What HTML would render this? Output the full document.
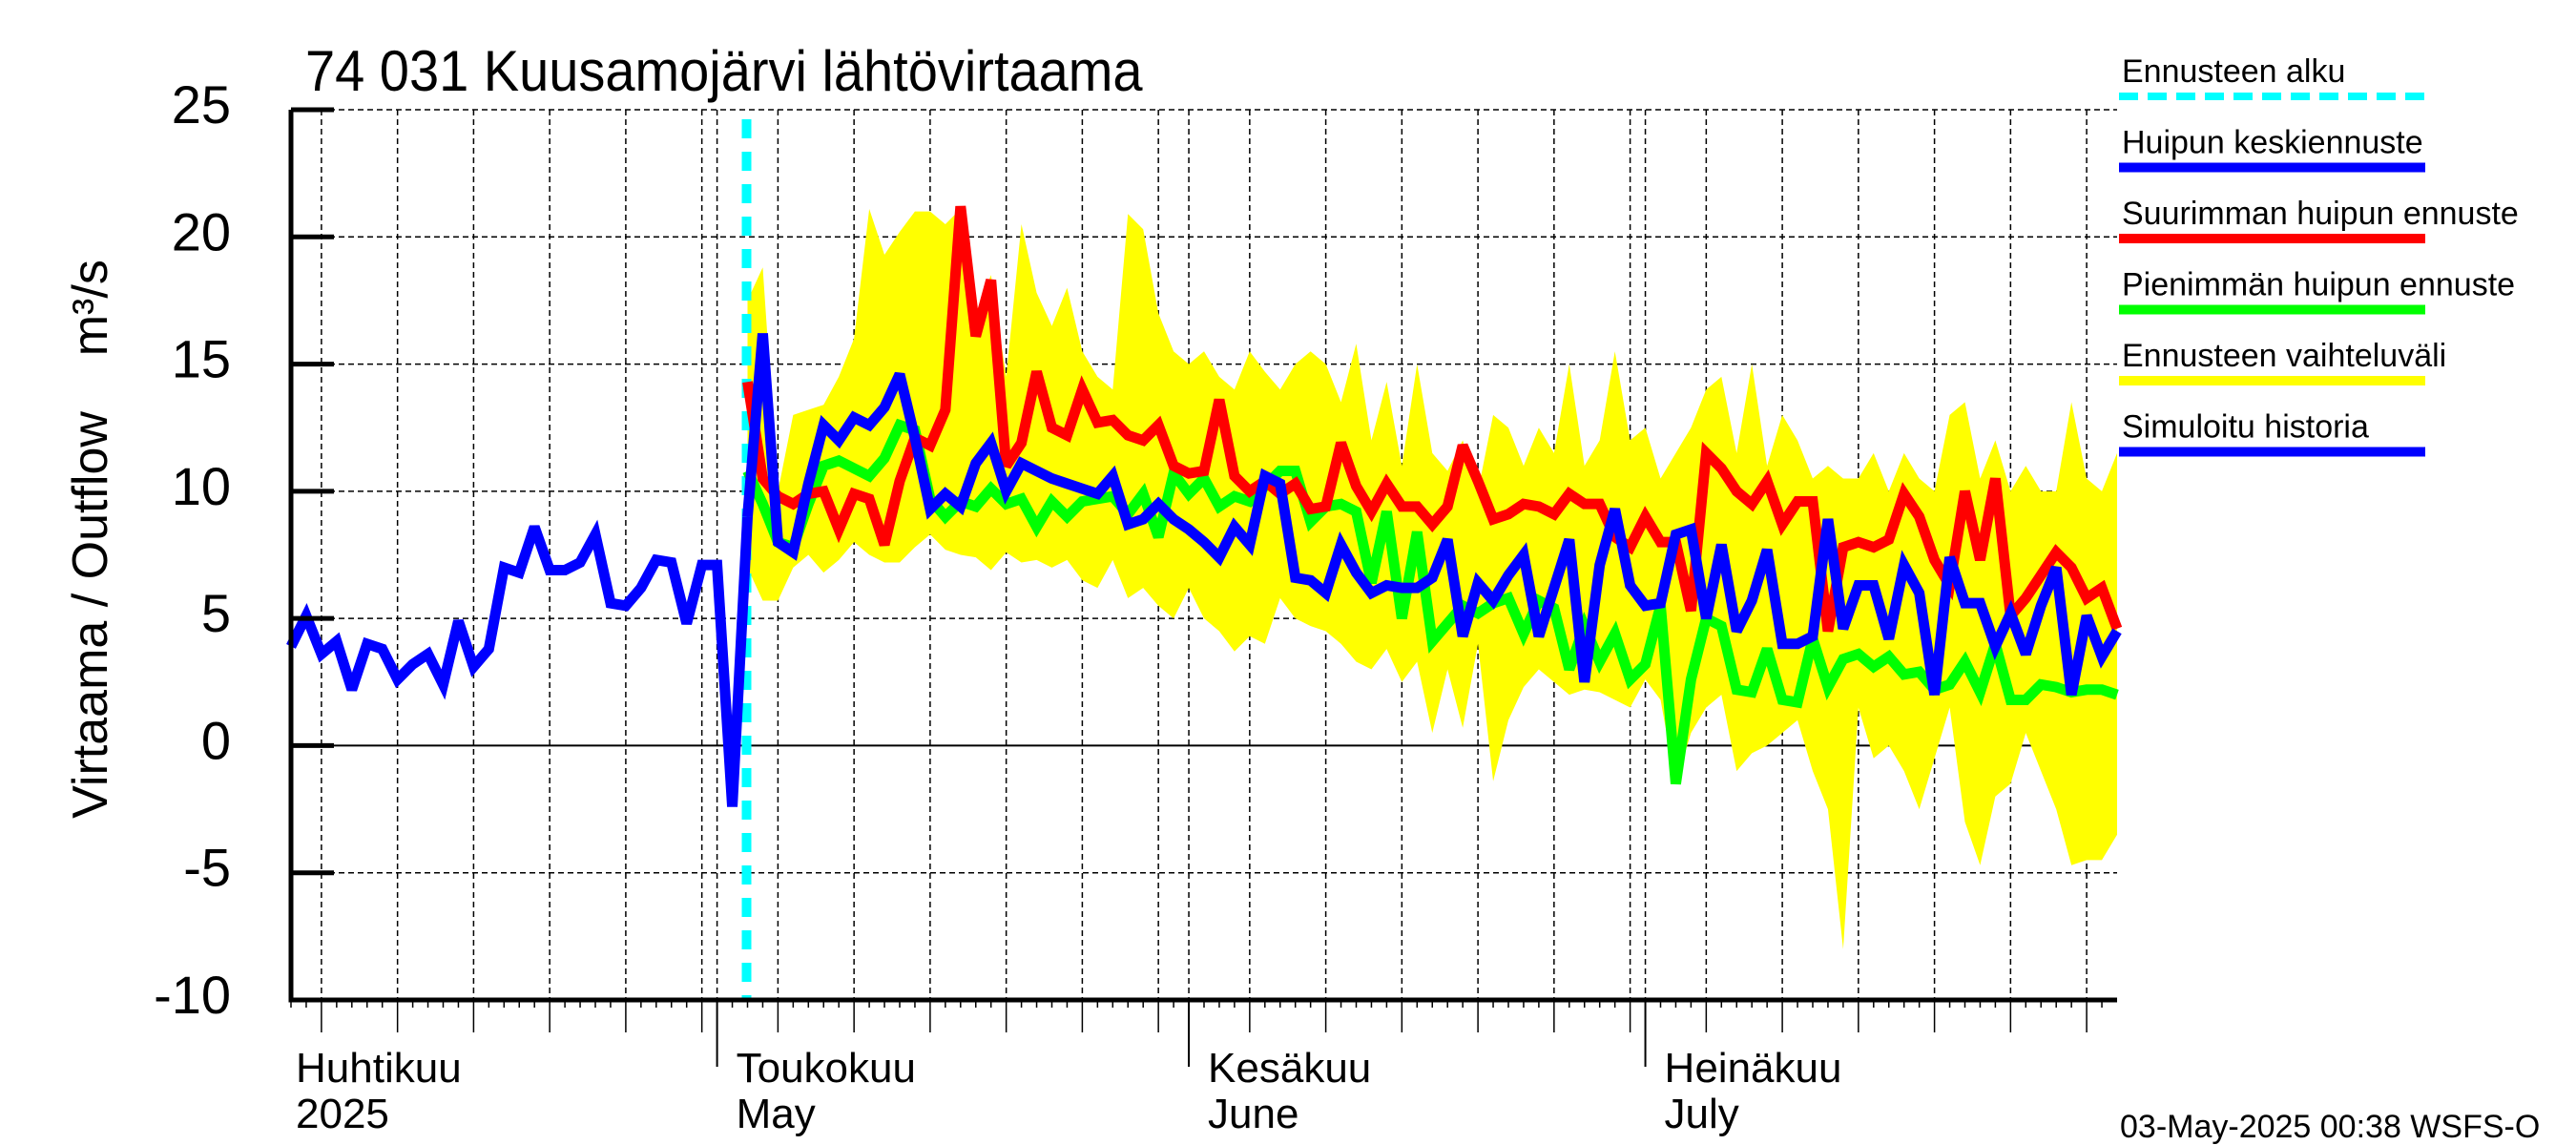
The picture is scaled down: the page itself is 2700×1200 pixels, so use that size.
<!DOCTYPE html>
<html><head><meta charset="utf-8"><style>
html,body{margin:0;padding:0;background:#fff}
svg{display:block;font-family:"Liberation Sans",Arial,sans-serif}
</style></head><body>
<svg id="chart" width="2700" height="1200" viewBox="0 0 2700 1200" xmlns="http://www.w3.org/2000/svg">
<g id="grid"></g>
<g id="band"></g>
<g id="cyan"></g>
<g id="lines"></g>
<g id="axes"></g>
<text x="320" y="88" font-size="56" transform="translate(320,0) scale(1.0,1.08) translate(-320,0)">74 031 Kuusamojärvi lähtövirtaama</text>
<text transform="translate(112,565) rotate(-90)" text-anchor="middle" font-size="52" xml:space="preserve">Virtaama / Outflow    m³/s</text>
<g id="legend"></g>
<text x="2222" y="1192" font-size="34">03-May-2025 00:38 WSFS-O</text>
</svg>
<script>
const histValues=[3.9,5.1,3.6,4.1,2.2,4.0,3.8,2.6,3.2,3.6,2.4,4.9,3.1,3.8,7.0,6.8,8.6,6.9,6.9,7.2,8.3,5.6,5.5,6.2,7.3,7.2,4.8,7.1,7.1,-2.4,9.0];
const fcStart=30;
const meanValues=[9.0,16.2,8.0,7.6,10.3,12.6,12.0,12.9,12.6,13.3,14.6,12.1,9.3,9.9,9.4,11.1,11.9,10.0,11.1,10.8,10.5,10.3,10.1,9.9,10.6,8.7,8.9,9.5,8.9,8.5,8.0,7.4,8.6,7.9,10.6,10.3,6.6,6.5,6.0,7.9,6.8,6.0,6.3,6.2,6.2,6.6,8.1,4.3,6.4,5.7,6.7,7.5,4.3,6.2,8.1,2.5,7.1,9.3,6.3,5.5,5.6,8.3,8.5,5.0,7.9,4.5,5.7,7.7,4.0,4.0,4.3,8.9,4.6,6.3,6.3,4.2,7.1,6.0,2.0,7.4,5.6,5.6,3.9,5.2,3.6,5.5,7.0,2.0,5.1,3.5,4.5];
const maxValues=[14.3,10.5,9.8,9.5,9.9,10.0,8.5,9.9,9.7,7.9,10.4,12.1,11.8,13.2,21.2,16.1,18.3,11.0,11.9,14.7,12.5,12.2,14.0,12.7,12.8,12.2,12.0,12.6,11.0,10.7,10.8,13.6,10.6,10.0,10.4,9.9,10.3,9.3,9.4,11.9,10.2,9.2,10.3,9.4,9.4,8.7,9.4,11.8,10.4,8.9,9.1,9.5,9.4,9.1,9.9,9.5,9.5,8.2,7.8,9.0,8.0,8.0,5.3,11.5,10.9,10.0,9.5,10.4,8.7,9.6,9.6,4.5,7.8,8.0,7.8,8.1,9.9,9.0,7.3,6.3,10.0,7.3,10.5,5.1,5.8,6.7,7.6,7.0,5.8,6.2,4.6];
const minValues=[10.8,9.5,8.0,7.8,9.5,11.0,11.2,10.9,10.6,11.3,12.6,12.4,9.7,9.0,9.6,9.4,10.1,9.5,9.7,8.6,9.6,9.0,9.6,9.7,9.8,9.1,9.9,8.2,10.7,9.9,10.5,9.4,9.8,9.6,10.2,10.8,10.8,8.8,9.4,9.5,9.2,6.4,9.2,5.0,8.4,4.1,4.8,5.5,5.2,5.6,5.8,4.4,5.7,5.4,3.0,4.7,3.3,4.4,2.6,3.2,5.5,-1.5,2.6,5.0,4.7,2.2,2.1,3.8,1.8,1.7,4.2,2.3,3.4,3.6,3.1,3.5,2.8,2.9,2.2,2.4,3.3,2.1,4.0,1.8,1.8,2.4,2.3,2.1,2.2,2.2,2.0];
const bandUpper=[17.5,18.8,10.0,13.0,13.2,13.4,14.5,16.0,21.1,19.3,20.2,21.0,21.0,20.5,21.1,17.0,18.5,14.5,20.5,17.8,16.5,18.0,15.5,14.5,14.0,20.9,20.3,17.0,15.5,15.0,15.5,14.5,14.0,15.5,14.7,14.0,15.0,15.5,15.0,13.5,15.8,12.0,14.3,11.0,15.0,11.5,10.8,12.0,10.0,13.0,12.5,11.0,12.5,11.5,15.0,11.0,12.0,15.5,12.0,12.5,10.5,11.5,12.5,14.0,14.5,11.5,15.0,11.0,13.0,12.0,10.5,11.0,10.5,10.5,11.5,10.0,11.5,10.5,10.0,13.0,13.5,10.5,12.0,10.0,11.0,10.0,10.0,13.5,10.5,10.0,11.5];
const bandLower=[7.0,5.7,5.7,7.0,7.5,6.8,7.3,8.0,7.5,7.2,7.2,7.8,8.3,7.7,7.5,7.4,6.9,7.6,7.2,7.3,7.0,7.3,6.5,6.2,7.3,5.8,6.2,5.5,5.0,6.2,5.0,4.5,3.7,4.3,4.0,5.8,5.0,4.7,4.5,4.0,3.3,3.0,3.8,2.5,3.3,0.5,3.0,0.7,4.0,-1.4,1.0,2.3,3.0,2.5,2.0,2.2,2.1,1.8,1.5,2.6,1.8,-1.5,0.5,1.5,2.0,-1.0,-0.3,0.0,0.5,1.0,-1.0,-2.5,-8.0,1.5,-0.5,0.0,-1.0,-2.5,-0.5,1.5,-3.0,-4.7,-2.0,-1.5,0.5,-1.0,-2.5,-4.7,-4.5,-4.5,-3.5];
const yTicks=[25,20,15,10,5,0,-5,-10];
const monthLabels=[["Huhtikuu","2025"],["Toukokuu","May"],["Kesäkuu","June"],["Heinäkuu","July"]];
const monthStartDays=[-2,28,59,89];
const legendLabels=["Ennusteen alku","Huipun keskiennuste","Suurimman huipun ennuste","Pienimmän huipun ennuste","Ennusteen vaihteluväli","Simuloitu historia"];
const legendColors=["#00ffff","#0000ff","#ff0000","#00ff00","#ffff00","#0000ff"];

const L=305,R=2219,T=115,B=1048,DAYS=120;
const X=d=>L+(R-L)*d/DAYS;
const Y=v=>B-(B-T)*(v+10)/35;
const NS="http://www.w3.org/2000/svg";
function mk(tag,parent,attrs){const e=document.createElementNS(NS,tag);for(const k in attrs)e.setAttribute(k,attrs[k]);parent.appendChild(e);return e;}
const grid=document.getElementById('grid'),axes=document.getElementById('axes');
yTicks.forEach(v=>{
 const l=mk('line',grid,{x1:L,x2:R,y1:Y(v),y2:Y(v),stroke:'#000','stroke-width':v===0?2:1.5,'stroke-dasharray':v===0?'none':'6 4'});
 
 
 const t=mk('line',axes,{x1:L,x2:L+45,y1:Y(v),y2:Y(v),stroke:'#000','stroke-width':5});
 
 
 const tx=mk('text',axes,{x:242,y:Y(v)+14,'text-anchor':'end','font-size':56});
 tx.textContent=v;
 
 
});
const monthLen=[30,31,30,31];
let days=[];let d=-2;
for(let m=0;m<4;m++){for(let dm=1;dm<=monthLen[m];dm++){days.push([d,dm]);d++;}}
days.forEach(([dd,dm])=>{
 if(dd<0||dd>DAYS)return;
 const x=X(dd);
 let len=8;
 if(dm%5===0)len=34;
 if(dm===1)len=70;
 const t=mk('line',axes,{x1:x,x2:x,y1:B,y2:B+len,stroke:'#000','stroke-width':dm===1?2:1.5});
 
 
 if(dm%5===0||dm===1){
  const g=mk('line',grid,{x1:x,x2:x,y1:T,y2:B,stroke:'#000','stroke-width':1.5,'stroke-dasharray':'6 4'});
  
  
 }
});
monthLabels.forEach((lab,i)=>{
 const x=Math.max(X(monthStartDays[i])+20,310);
 const a=mk('text',axes,{x:x,y:1134,'font-size':44});a.textContent=lab[0];
 
 
 const b=mk('text',axes,{x:x,y:1182,'font-size':44});b.textContent=lab[1];
 
 
});
const ax=mk('path',axes,{d:`M${L} ${T} L${L} ${B} L${R} ${B}`,fill:'none',stroke:'#000','stroke-width':5});


let bp='';
bandUpper.forEach((v,i)=>{bp+=(i?'L':'M')+X(fcStart+i)+' '+Y(v)+' ';});
for(let i=bandLower.length-1;i>=0;i--)bp+='L'+X(fcStart+i)+' '+Y(bandLower[i])+' ';
const band=mk('path',document.getElementById('band'),{d:bp+'Z',fill:'#ffff00'});


const cy=mk('line',document.getElementById('cyan'),{x1:X(fcStart)-1,x2:X(fcStart)-1,y1:T+10,y2:B,stroke:'#00ffff','stroke-width':10,'stroke-dasharray':'20 14'});


const lines=document.getElementById('lines');
function series(vals,start,color,name){
 const p=vals.map((v,i)=>(i?'L':'M')+X(start+i)+' '+Y(v)).join(' ');
 const e=mk('path',lines,{d:p,fill:'none',stroke:color,'stroke-width':11,'stroke-linejoin':'miter','stroke-miterlimit':3});
 
 
}
series(minValues,fcStart,'#00ff00','min-peak-line');
series(maxValues,fcStart,'#ff0000','max-peak-line');
series(histValues,0,'#0000ff','simulated-history-line');
series(meanValues,fcStart,'#0000ff','mean-peak-line');
const lg=document.getElementById('legend');
legendLabels.forEach((s,i)=>{
 const y0=74+i*74.5;
 const t=mk('text',lg,{x:2224,y:y0+12,'font-size':34});t.textContent=s;
 
 
 const l=mk('line',lg,{x1:2221,x2:2542,y1:y0+27,y2:y0+27,stroke:legendColors[i],'stroke-width':i===0?8:10,'stroke-dasharray':i===0?'20 10':'none'});
 
 
});
</script>
</body></html>
